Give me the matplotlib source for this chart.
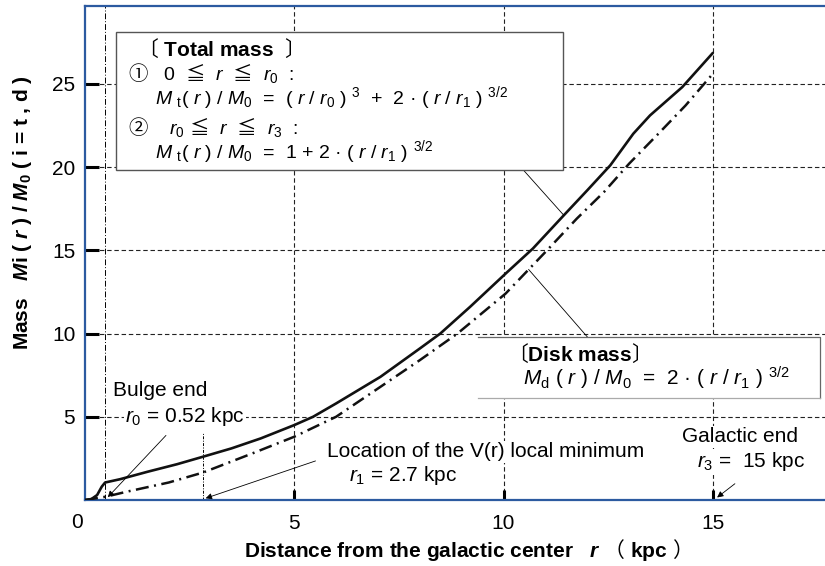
import matplotlib
matplotlib.use('Agg')
import matplotlib.pyplot as plt
from matplotlib.patches import Rectangle
import numpy as np

plt.rcParams['font.family'] = ['Liberation Sans', 'Noto Sans CJK JP']
plt.rcParams['mathtext.fontset'] = 'custom'
plt.rcParams['mathtext.rm'] = 'Liberation Sans'
plt.rcParams['mathtext.it'] = 'Liberation Sans:italic'
plt.rcParams['mathtext.bf'] = 'Liberation Sans:bold'
plt.rcParams['mathtext.bfit'] = 'Liberation Sans:bold:italic'
plt.rcParams['mathtext.sf'] = 'Noto Sans CJK JP'

# total mass Mt(r)/M0
total_r = [0, 0.15, 0.29, 0.4, 0.48, 0.84, 1.5, 2.2, 2.82, 3.5, 4.2, 5.0, 5.45, 6.0, 7.06,
           8.0, 8.49, 9.2, 10.05, 10.7, 11.44, 12.0, 12.55, 13.1, 13.5, 14.27, 15.0]
total_m = [0, 0.05, 0.3, 0.8, 1.05, 1.25, 1.7, 2.15, 2.6, 3.1, 3.7, 4.5, 5.0, 5.8, 7.4,
           9.1, 10.0, 11.6, 13.6, 15.1, 17.1, 18.6, 20.1, 22.0, 23.1, 24.8, 26.85]

# disk mass Md(r)/M0
disk_r = [0, 0.5, 1.0, 2.0, 2.82, 4.0, 5.0, 6.0, 7.06, 8.0, 8.9, 10.05, 11.04, 11.75,
          12.4, 13.0, 13.7, 14.35, 15.0]
disk_m = [0, 0.2, 0.5, 1.05, 1.65, 2.8, 3.8, 5.0, 6.8, 8.4, 10.0, 12.4, 15.0, 16.9,
          18.5, 20.2, 22.0, 23.7, 25.6]

x_ticks = [5, 10, 15]
y_ticks = [5, 10, 15, 20, 25]
r0_line = 0.47      # bulge end marker
r1_line = 2.82      # V(r) local minimum marker
r3 = 15.0

FS = 15
FF = 14     # formula size inside the total-mass box
blue = '#2c5aa0'

fig = plt.figure(figsize=(8.25, 5.66), dpi=100)
ax = fig.add_axes([85/825, 66/566, 740/825, 494/566])
ax.set_xlim(0, 17.68)
ax.set_ylim(0, 29.67)

for s in ['left', 'bottom', 'top']:
    ax.spines[s].set_color(blue)
    ax.spines[s].set_linewidth(1.6)
ax.spines['right'].set_visible(False)

ax.set_xticks(x_ticks)
ax.set_yticks(y_ticks)
ax.tick_params(direction='in', width=2.2, color='black', labelsize=FS)
ax.tick_params(axis='x', pad=10, length=7)
ax.tick_params(axis='y', pad=7, length=10)
ax.grid(True, color='#222222', linestyle=(0, (4, 2.5)), linewidth=0.8)
ax.annotate('0', xy=(0, 0), xytext=(-6, -16.5), textcoords='offset points',
            ha='center', va='center', fontsize=FS)

# marker lines
ax.axvline(r0_line, color='black', linestyle=(0, (6, 2, 1, 2)), linewidth=0.7, zorder=1.6)
ax.plot([r1_line, r1_line], [0, 4.0], color='black', linestyle=(0, (3, 1.5, 1, 1.5)),
        linewidth=0.7, zorder=1.6)

# curves
ax.plot(total_r, total_m, color='#111111', linewidth=1.9, zorder=3,
        solid_joinstyle='round', solid_capstyle='round')
ax.plot(disk_r, disk_m, color='#111111', linewidth=1.8, zorder=3,
        linestyle=(0, (5.2, 2.2, 0.8, 2.2)))

# total mass box
ax.add_patch(Rectangle((0.74, 19.8), 10.68, 8.3, facecolor='white', edgecolor='#555555',
                       linewidth=1.0, zorder=4))
ax.text(1.24, 27.1, r'$\mathsf{〔}$ Total mass  $\mathsf{〕}$', fontsize=FS,
        fontweight='bold', va='center', zorder=5)
ax.text(1.03, 25.2, r'$\mathsf{①}$   0  $\mathsf{≦}$  $r$  $\mathsf{≦}$  $r_0$  :',
        fontsize=FF, va='baseline', zorder=5)
ax.text(1.67, 23.75,
        r'$M$ $_{\rm t}$( $r$ ) / $M_0$  =  ( $r$ / $r_0$ ) $^{3}$  +  2 · ( $r$ / $r_1$ ) $^{3/2}$',
        fontsize=FF, va='baseline', zorder=5)
ax.text(1.03, 22.0, r'$\mathsf{②}$    $r_0$ $\mathsf{≦}$  $r$  $\mathsf{≦}$  $r_3$  :',
        fontsize=FF, va='baseline', zorder=5)
ax.text(1.67, 20.55,
        r'$M$ $_{\rm t}$( $r$ ) / $M_0$  =  1 + 2 · ( $r$ / $r_1$ ) $^{3/2}$',
        fontsize=FF, va='baseline', zorder=5)
lead_t = 11.44
ax.plot([10.48, lead_t], [19.8, np.interp(lead_t, total_r, total_m)], color='black',
        linewidth=0.6, zorder=3.5)

# disk mass box (no left edge, as in the source)
bx0, by0, bx1, by1 = 9.4, 6.1, 17.56, 9.8
ax.add_patch(Rectangle((bx0, by0), bx1 - bx0, by1 - by0, facecolor='white',
                       edgecolor='none', zorder=4))
ax.plot([bx0, bx1, bx1], [by1, by1, by0], color='#666666', linewidth=0.9, zorder=4.1)
ax.plot([bx0, bx1], [by0, by0], color='#aaaaaa', linewidth=0.9, zorder=4.1)
ax.text(10.08, 8.8, r'$\mathsf{〔}$Disk mass$\mathsf{〕}$', fontsize=FS,
        fontweight='bold', va='center', zorder=5)
ax.text(10.47, 6.85,
        r'$M$$_{\rm d}$ ( $r$ ) / $M_0$  =  2 · ( $r$ / $r_1$ ) $^{3/2}$',
        fontsize=FS, va='baseline', zorder=5)
lead_d = 10.6
ax.plot([12.0, lead_d], [9.8, np.interp(lead_d, disk_r, disk_m)], color='black',
        linewidth=0.6, zorder=3.5)

# point labels
wbox = dict(facecolor='white', edgecolor='none', pad=1)
ax.text(0.67, 6.6, 'Bulge end', fontsize=FS, va='center', zorder=2, bbox=wbox)
ax.text(0.96, 5.0, r'$r_0$ = 0.52 kpc', fontsize=FS, va='center', zorder=2, bbox=wbox)
ax.annotate('', xy=(0.5, 0.05), xytext=(1.98, 4.0),
            arrowprops=dict(arrowstyle='-|>', color='black', lw=0.6, mutation_scale=9))

ax.text(5.78, 2.9, 'Location of the V(r) local minimum', fontsize=FS, va='center',
        zorder=2, bbox=wbox)
ax.text(6.3, 1.45, r'$r_1$ = 2.7 kpc', fontsize=FS, va='center', zorder=2, bbox=wbox)
ax.annotate('', xy=(r1_line, 0.05), xytext=(5.57, 2.4),
            arrowprops=dict(arrowstyle='-|>', color='black', lw=0.6, mutation_scale=9))

ax.text(14.27, 3.8, 'Galactic end', fontsize=FS, va='center', zorder=2, bbox=wbox)
ax.text(14.62, 2.3, r'$r_3$ =  15 kpc', fontsize=FS, va='center', zorder=2, bbox=wbox)
ax.annotate('', xy=(r3 + 0.05, 0.05), xytext=(15.58, 1.08),
            arrowprops=dict(arrowstyle='-|>', color='black', lw=0.6, mutation_scale=9))

# axis titles
fig.text(462/825, 1 - 550/566,
         r'Distance from the galactic center   $\mathbfit{r}$ $\mathsf{（}$ kpc $\mathsf{）}$',
         fontsize=FS, fontweight='bold', ha='center', va='center')
fig.text(23/825, 1 - 213/566,
         r'Mass   $\mathbfit{M}$i ( $\mathbfit{r}$ ) / $\mathbfit{M}_{\mathbf{0}}$ ( i = t , d )',
         fontsize=FS, fontweight='bold', ha='center', va='center', rotation=90)

fig.savefig('out.png', dpi=100)
